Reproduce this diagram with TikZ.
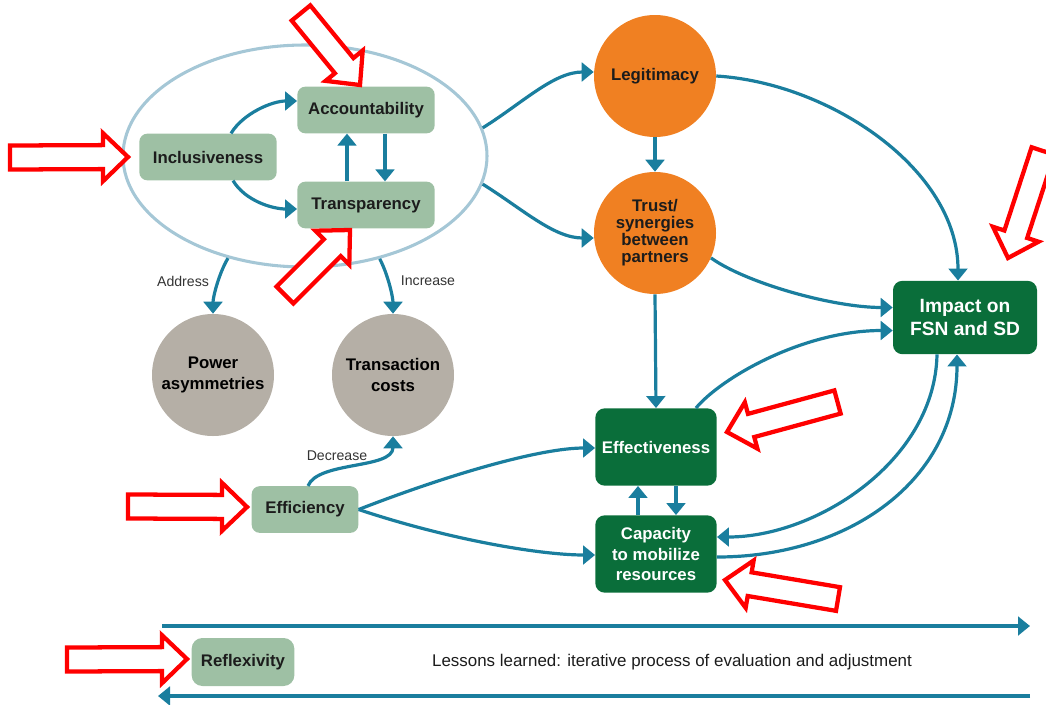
\documentclass[tikz,border=0pt]{standalone}
\usepackage{fontspec}
\setmainfont{Liberation Sans}
\usetikzlibrary{arrows.meta,calc,shapes.geometric}
\definecolor{sage}{RGB}{158,192,164}
\definecolor{dkgreen}{RGB}{10,110,58}
\definecolor{orng}{RGB}{240,128,34}
\definecolor{greyc}{RGB}{181,175,166}
\definecolor{tealc}{RGB}{26,126,158}
\definecolor{ellc}{RGB}{165,199,214}
\definecolor{txt}{RGB}{28,28,28}
\newcommand\redarrow[2]{%
  \coordinate (rT) at #1; \coordinate (rP) at #2;
  \coordinate (rB) at ($(rP)!18.75pt!(rT)$);
  \draw[redarr] ($(rT)!9pt!90:(rP)$) -- ($(rB)!9pt!90:(rP)$) -- ($(rB)!18pt!90:(rP)$) -- (rP)
    -- ($(rB)!18pt!-90:(rP)$) -- ($(rB)!9pt!-90:(rP)$) -- ($(rT)!9pt!-90:(rP)$) -- cycle;
}
\tikzset{
  sagebox/.style={rectangle, rounded corners=6pt, fill=sage, text=txt, inner sep=0pt,
    font=\bfseries\fontsize{12.6}{14}\selectfont, align=center},
  dkbox/.style={rectangle, rounded corners=7pt, fill=dkgreen, text=white, inner sep=0pt,
    font=\bfseries\fontsize{12.6}{15.5}\selectfont, align=center},
  orcirc/.style={circle, fill=orng, text=txt, inner sep=0pt, minimum size=91.5pt,
    font=\bfseries\fontsize{12.6}{12.8}\selectfont, align=center},
  grcirc/.style={circle, fill=greyc, text=black, inner sep=0pt, minimum size=91.5pt,
    font=\bfseries\fontsize{12.6}{15.5}\selectfont, align=center},
  conn/.style={draw=tealc, line width=2.4pt, -{Triangle[width=14pt,length=9pt]}},
  lbl/.style={text=txt!90, font=\fontsize{10.6}{12}\selectfont},
  redarr/.style={draw=red, line width=3.2pt, fill=white, line join=miter},
}
\begin{document}
\begin{tikzpicture}[x=0.75pt,y=-0.75pt]
\useasboundingbox (0,0) rectangle (1046,704);
% ellipse
\node[ellipse, draw=ellc, line width=2.3pt, minimum width=273pt, minimum height=166.5pt, inner sep=0pt] (ell) at (305,156) {};
% boxes
\node[sagebox, minimum width=103pt, minimum height=35pt] (acc) at (366,110) {Accountability};
\node[sagebox, minimum width=103pt, minimum height=35pt] (incl) at (208,157) {Inclusiveness};
\node[sagebox, minimum width=103pt, minimum height=35pt] (trans) at (366,205) {Transparency};
\node[orcirc] (leg) at (655,76) {Legitimacy};
\node[orcirc] (trust) at (655,233) {Trust/\\synergies\\between\\partners};
\node[dkbox, minimum width=108pt, minimum height=55pt, font=\bfseries\fontsize{14.4}{17.2}\selectfont] (imp) at (965,317.5) {Impact on\\FSN and SD};
\node[dkbox, minimum width=91pt, minimum height=58pt] (eff) at (656,447) {Effectiveness};
\node[dkbox, minimum width=91pt, minimum height=58pt] (cap) at (656,554) {Capacity\\to mobilize\\resources};
\node[grcirc] (pow) at (213,375) {Power\\asymmetries};
\node[grcirc] (tc) at (393,375) {Transaction\\costs};
\node[sagebox, minimum width=80pt, minimum height=35pt] (effi) at (305,509.5) {Efficiency};
\node[sagebox, minimum width=77pt, minimum height=36pt, rounded corners=8pt] (refl) at (243,662) {Reflexivity};
\node[font=\fontsize{12.7}{14}\selectfont, text=txt] (less) at (672,662) {Lessons learned: iterative process of evaluation and adjustment};
% labels
\node[lbl] (laddr) at (183,281) {Address};
\node[lbl] (lincr) at (428,281) {Increase};
\node[lbl] (ldecr) at (337,456) {Decrease};
% connectors inside ellipse
\draw[conn] ($(incl.north)+(23,0)$) .. controls +(12,-20) and +(-25,0) .. ($(acc.west)+(0,-9)$);
\draw[conn] ($(incl.south)+(25,0)$) .. controls +(12,20) and +(-25,0) .. ($(trans.west)+(0,4)$);
\draw[conn] ($(trans.north)+(-19,0)$) -- ($(acc.south)+(-19,0)$);
\draw[conn] ($(acc.south)+(19,0)$) -- ($(trans.north)+(19,0)$);
% to orange circles
\draw[conn] (ell.9) .. controls +(40,-25) and +(-40,0) .. ($(leg.west)+(0,-4)$);
\draw[conn] (ell.-9) .. controls +(40,25) and +(-40,0) .. ($(trust.west)+(0,5)$);
\draw[conn] (leg.south) -- (trust.north);
\draw[conn] (leg.east) .. controls +(114,7) and +(0,-111) .. ($(imp.north)+(-7,0)$);
\draw[conn] (trust.-24) .. controls +(35,25) and +(-60,0) .. ($(imp.west)+(0,-10)$);
\draw[conn] (trust.south) -- (eff.north);
\draw[conn] ($(eff.north east)+(-21,0)$) .. controls +(25,-30) and +(-90,0) .. ($(imp.west)+(0,13)$);
\draw[conn] ($(imp.south)+(-28,0)$) .. controls +(-2,106) and +(100,0) .. ($(cap.east)+(0,-17)$);
\draw[conn] ($(cap.east)+(0,3)$) .. controls +(132,0) and +(0,126) .. ($(imp.south)+(-8,0)$);
\draw[conn] ($(cap.north)+(-18,0)$) -- ($(eff.south)+(-18,0)$);
\draw[conn] ($(eff.south)+(20,0)$) -- ($(cap.north)+(20,0)$);
% grey circles
\draw[conn] (ell.233) .. controls +(-9,15) and +(0,-17) .. (pow.north);
\draw[conn] (ell.-54) .. controls +(8,15) and +(0,-17) .. (tc.north);
\draw[conn] ($(effi.north)+(3,0)$) .. controls +(10,-25) and +(0,33) .. (tc.south);
\draw[conn] (effi.east) .. controls +(90,-35) and +(-55,0) .. ($(eff.west)+(0,1)$);
\draw[conn] (effi.east) .. controls +(90,30) and +(-55,0) .. ($(cap.west)+(0,1)$);
% bottom arrows
\coordinate (t1) at (162,626); \coordinate (t2) at (1030,626);
\coordinate (b1) at (1030,696); \coordinate (b2) at (158,696);
\draw[conn] (t1) -- (t2);
\draw[conn] (b1) -- (b2);
% red annotation arrows
\redarrow{(10,157.5)}{(128,157)}
\redarrow{(301,13)}{(360,85)}
\redarrow{(285,295)}{(350,230)}
\redarrow{(1043,151)}{(1008,258)}
\redarrow{(837.5,402)}{(727,432)}
\redarrow{(838,599)}{(725,580)}
\redarrow{(128,506.5)}{(247,507)}
\redarrow{(67,659.5)}{(187,659)}
\end{tikzpicture}
\end{document}
